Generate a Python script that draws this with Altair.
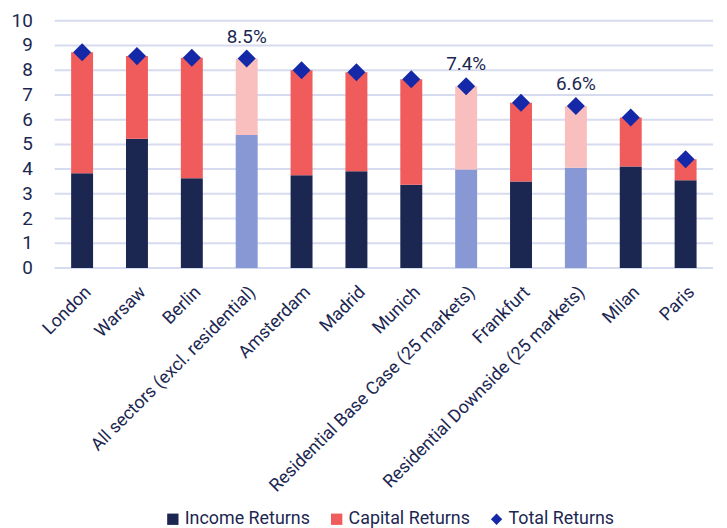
import altair as alt
import pandas as pd

categories = ["London", "Warsaw", "Berlin", "All sectors (excl. residential)", "Amsterdam",
              "Madrid", "Munich", "Residential Base Case (25 markets)", "Frankfurt",
              "Residential Downside (25 markets)", "Milan", "Paris"]
income = [3.83, 5.23, 3.63, 5.38, 3.75, 3.91, 3.37, 3.98, 3.50, 4.06, 4.11, 3.55]
capital = [4.90, 3.34, 4.87, 3.09, 4.25, 4.01, 4.26, 3.37, 3.18, 2.49, 1.98, 0.85]
total = [8.73, 8.57, 8.50, 8.47, 8.00, 7.92, 7.63, 7.35, 6.68, 6.55, 6.09, 4.40]
highlight = [False, False, False, True, False, False, False, True, False, True, False, False]
annot = ["", "", "", "8.5%", "", "", "", "7.4%", "", "6.6%", "", ""]
y_ticks = [0, 1, 2, 3, 4, 5, 6, 7, 8, 9, 10]

series = ["Income Returns", "Capital Returns", "Total Returns"]
series_colors = ["#1C2751", "#F05C5C", "#1428A8"]
light_colors = {"Income Returns": "#8898D4", "Capital Returns": "#F9BEBE"}

FONT = "Roboto, sans-serif"
TXT = "#1C2751"

rows = []
for c, inc, cap, hl in zip(categories, income, capital, highlight):
    rows.append({"category": c, "series": "Income Returns", "start": 0.0, "end": inc,
                 "fill": light_colors["Income Returns"] if hl else series_colors[0]})
    rows.append({"category": c, "series": "Capital Returns", "start": inc, "end": inc + cap,
                 "fill": light_colors["Capital Returns"] if hl else series_colors[1]})
bars_df = pd.DataFrame(rows)

tot_df = pd.DataFrame({"category": categories, "total": total, "label": annot,
                       "series": ["Total Returns"] * len(categories)})
ticks_df = pd.DataFrame({"tick": y_ticks})

xaxis = alt.Axis(labelAngle=-45, labelFont=FONT, labelFontSize=18, labelColor=TXT,
                 ticks=False, domain=False, labelPadding=15, labelLimit=400, grid=False)
xenc = alt.X("category:N", sort=categories, title=None,
             scale=alt.Scale(paddingInner=0.6, paddingOuter=0.3), axis=xaxis)
yscale = alt.Scale(domain=[0, 10], nice=False, zero=True)

def yenc(field):
    return alt.Y(field, scale=yscale, axis=None, title=None)

grid = alt.Chart(ticks_df).mark_rule(color="#D6DBEF", strokeWidth=2).encode(
    y=yenc("tick:Q"),
)
ylabels = alt.Chart(ticks_df).mark_text(font=FONT, fontSize=19, color=TXT, align="right",
                                        baseline="middle", dx=-22).encode(
    y=yenc("tick:Q"),
    x=alt.value(0),
    text=alt.Text("tick:Q", format="d"),
)

legend_df = pd.DataFrame({"series": series, "category": [categories[0]] * 3, "total": [1.0, 1.0, 1.0]})
legend_layer = alt.Chart(legend_df).mark_point(filled=True, opacity=1).encode(
    x=xenc,
    y=yenc("total:Q"),
    color=alt.Color("series:N", scale=alt.Scale(domain=series, range=series_colors),
                    legend=alt.Legend(title=None, orient="none", direction="horizontal",
                                      legendX=110, legendY=493,
                                      labelFont=FONT, labelFontSize=18, labelColor=TXT,
                                      labelOffset=3, columnPadding=17, symbolStrokeWidth=0)),
    shape=alt.Shape("series:N", scale=alt.Scale(domain=series, range=["square", "square", "diamond"])),
    size=alt.Size("series:N", scale=alt.Scale(domain=series, range=[130, 130, 50])),
)

bars = alt.Chart(bars_df).mark_bar().encode(
    x=xenc,
    y=yenc("start:Q"),
    y2="end:Q",
    fill=alt.Fill("fill:N", scale=None, legend=None),
)

diamonds = alt.Chart(tot_df).mark_point(shape="diamond", filled=True, size=330, opacity=1,
                                         fill="#1428A8", strokeWidth=0).encode(
    x=xenc,
    y=yenc("total:Q"),
)

labels = alt.Chart(tot_df).mark_text(font=FONT, fontSize=19, color=TXT, dy=-22).encode(
    x=xenc,
    y=yenc("total:Q"),
    text="label:N",
)

chart = alt.layer(grid, ylabels, legend_layer, bars, diamonds, labels).properties(
    width=663, height=249,
    padding={"left": 3, "top": 2, "right": 5, "bottom": 2},
).configure_view(stroke=None)

chart.save("out.html", embed_options={"renderer": "svg", "actions": False})
